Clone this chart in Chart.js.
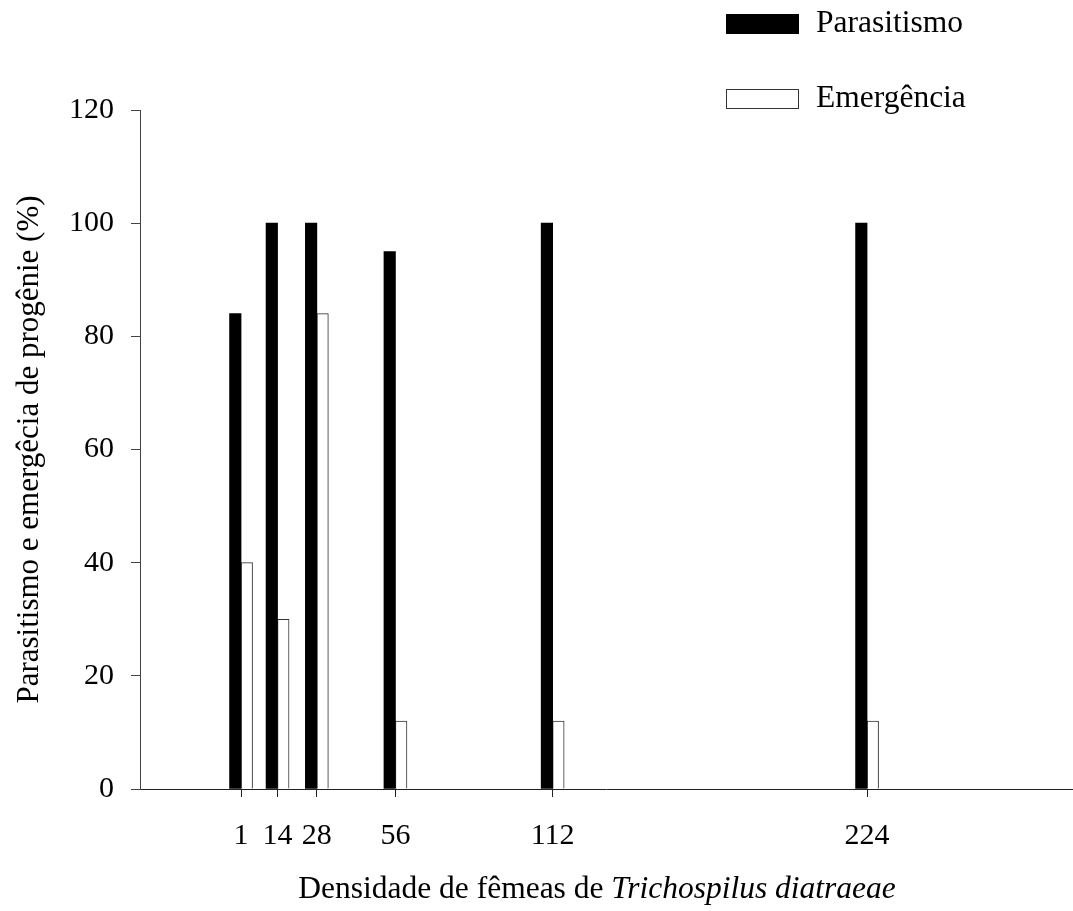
<!DOCTYPE html>
<html>
<head>
<meta charset="utf-8">
<script src="https://cdn.jsdelivr.net/npm/chart.js@4/dist/chart.umd.min.js"></script>
<style>
  html, body { margin: 0; padding: 0; background: #fff; }
  #wrap { width: 1073px; height: 911px; }
</style>
</head>
<body>
<div id="wrap"><canvas id="barChart" width="1073" height="911"></canvas></div>
<script>
// data
const densities = [1, 14, 28, 56, 112, 224];
const parasitismo = [84, 100, 100, 95, 100, 100];
const emergencia = [40, 30, 84, 12, 12, 12];
const yTicks = [0, 20, 40, 60, 80, 100, 120];

const FONT = 'Liberation Serif';

// legend + x title with italic species name, drawn on the canvas
const extras = {
  id: 'extras',
  afterDraw(chart) {
    const ctx = chart.ctx;
    ctx.save();
    ctx.textBaseline = 'middle';
    ctx.textAlign = 'left';

    const rows = [24, 99];
    chart.data.datasets.forEach((ds, i) => {
      const y = rows[i];
      ctx.fillStyle = ds.backgroundColor;
      ctx.fillRect(726, y - 10, 73, 20);
      ctx.strokeStyle = ds.borderColor;
      ctx.lineWidth = 1;
      ctx.strokeRect(726.5, y - 9.5, 72, 19);
      ctx.fillStyle = '#000';
      ctx.font = '31.5px "' + FONT + '"';
      ctx.fillText(ds.label, 816, y);
    });

    // x axis title
    const part1 = 'Densidade de fêmeas de ';
    const part2 = 'Trichospilus diatraeae';
    const reg = '31.5px "' + FONT + '"';
    const ita = 'italic 31.5px "' + FONT + '"';
    ctx.font = reg;
    const w1 = ctx.measureText(part1).width;
    ctx.font = ita;
    const w2 = ctx.measureText(part2).width;
    const x0 = 597 - (w1 + w2) / 2;
    ctx.fillStyle = '#000';
    ctx.font = reg;
    ctx.fillText(part1, x0, 890);
    ctx.font = ita;
    ctx.fillText(part2, x0 + w1, 890);
    ctx.restore();
  }
};

const barData = {
  datasets: [{
    label: 'Parasitismo',
    data: densities.map((d, i) => ({ x: d, y: parasitismo[i] })),
    backgroundColor: '#000',
    borderColor: '#000',
    borderWidth: 0,
    barThickness: 11.5
  }, {
    label: 'Emergência',
    data: densities.map((d, i) => ({ x: d, y: emergencia[i] })),
    backgroundColor: '#fff',
    borderColor: '#333',
    borderWidth: 1,
    barThickness: 11.5
  }]
};

const CHART = document.getElementById('barChart').getContext('2d');

let myBarChart = new Chart(CHART, {
  type: 'bar',
  data: barData,
  plugins: [extras],
  options: {
    responsive: false,
    animation: false,
    layout: { padding: { top: 110, right: 1, left: 0, bottom: 0 } },
    plugins: {
      legend: { display: false },
      tooltip: { enabled: false }
    },
    scales: {
      x: {
        type: 'linear',
        min: -35,
        max: 297,
        offset: false,
        afterBuildTicks(scale) {
          scale.ticks = densities.map(v => ({ value: v }));
        },
        afterFit(scale) { scale.height = 122; },
        grid: { display: true, offset: false, drawOnChartArea: false, drawTicks: true, tickLength: 8, color: '#222' },
        border: { display: true, color: '#222', width: 1 },
        ticks: {
          color: '#000',
          font: { family: FONT, size: 30 },
          padding: 21,
          maxRotation: 0,
          autoSkip: false
        }
      },
      y: {
        min: 0,
        max: 120,
        afterBuildTicks(scale) {
          scale.ticks = yTicks.map(v => ({ value: v }));
        },
        afterFit(scale) { scale.width = 140; },
        grid: { display: true, drawOnChartArea: false, drawTicks: true, tickLength: 9, color: '#444' },
        border: { display: true, color: '#444', width: 1 },
        ticks: {
          color: '#000',
          font: { family: FONT, size: 30 },
          padding: 17
        },
        title: {
          display: true,
          text: 'Parasitismo e emergêcia de progênie (%)',
          color: '#000',
          font: { family: FONT, size: 31 },
          padding: { top: 11, bottom: 0 }
        }
      }
    }
  }
});

console.log(myBarChart)
</script>
</body>
</html>
